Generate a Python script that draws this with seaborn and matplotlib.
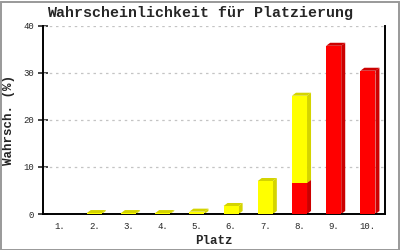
import matplotlib
matplotlib.use("Agg")
import matplotlib.pyplot as plt
import seaborn as sns
import numpy as np
from matplotlib.patches import Polygon, Rectangle

places = ["1.", "2.", "3.", "4.", "5.", "6.", "7.", "8.", "9.", "10."]
red_vals = [0, 0, 0, 0, 0, 0, 0, 6.6, 35.7, 30.4]
yellow_vals = [0, 0.2, 0.2, 0.2, 0.5, 1.7, 7.0, 18.5, 0, 0]
yticks = [0, 10, 20, 30, 40]

sns.set_style("white")
plt.rcParams["font.family"] = ["Liberation Mono", "DejaVu Sans Mono"]

fig = plt.figure(figsize=(4, 2.5), dpi=100)
ax = fig.add_axes([43 / 400, 36 / 250, 342 / 400, 188.5 / 250])

BW = 0.44
sns.barplot(x=places, y=red_vals, color="#ff0000", saturation=1, width=BW,
            ax=ax, zorder=3, linewidth=0)
n_red = len(ax.patches)
sns.barplot(x=places, y=yellow_vals, bottom=red_vals, color="#ffff00", saturation=1,
            width=BW, ax=ax, zorder=3, linewidth=0)

ax.set_xlim(-0.5, len(places) - 0.5)
ax.set_ylim(0, 40)
ax.set_yticks(yticks)
ax.set_yticklabels([str(v) for v in yticks])

# 3D depth faces derived from the drawn bars
fig.canvas.draw()
dx, dy = 4, 3
bars = list(ax.patches)
for i, p in enumerate(bars):
    h = p.get_height()
    if h <= 0:
        continue
    dark = "#cc0000" if i < n_red else "#d4d400"
    x0, y0 = p.get_x(), p.get_y()
    w = p.get_width()
    pts = ax.transData.transform([(x0, y0), (x0 + w, y0), (x0 + w, y0 + h), (x0, y0 + h)])
    (ax0, ay0), (ax1, _), (_, ay1), _ = pts
    side = [(ax1, ay0), (ax1, ay1), (ax1 + dx, ay1 + dy), (ax1 + dx, ay0 + dy)]
    top = [(ax0, ay1), (ax1, ay1), (ax1 + dx, ay1 + dy), (ax0 + dx, ay1 + dy)]
    for poly in (side, top):
        ax.add_patch(Polygon(poly, closed=True, transform=None, facecolor=dark,
                             edgecolor="none", zorder=2))

for y in yticks[1:]:
    ax.axhline(y, color="#c4c4c4", linestyle=(0, (2, 3)), linewidth=0.9, zorder=1)

for s in ["left", "bottom", "right"]:
    ax.spines[s].set_visible(True)
    ax.spines[s].set_color("black")
    ax.spines[s].set_linewidth(1.4)
ax.spines["top"].set_visible(False)

ax.tick_params(axis="y", direction="inout", length=7, width=1.2, pad=3, labelsize=6.5,
               left=True)
ax.tick_params(axis="x", length=0, pad=6, labelsize=6.5)

ax.set_xlabel("Platz", fontsize=9, fontweight="bold", labelpad=3)
ax.set_ylabel("Wahrsch. (%)", fontsize=9, fontweight="bold", labelpad=6)
fig.text(0.5, 0.948, "Wahrscheinlichkeit für Platzierung", ha="center", va="center",
         fontsize=10.8, fontweight="bold")

fig.patches.append(Rectangle((0.5 / 400, 0.5 / 250), 398 / 400, 248 / 250,
                             transform=fig.transFigure, fill=False,
                             edgecolor="#999999", linewidth=1.4))

fig.savefig("out.png", dpi=100)
